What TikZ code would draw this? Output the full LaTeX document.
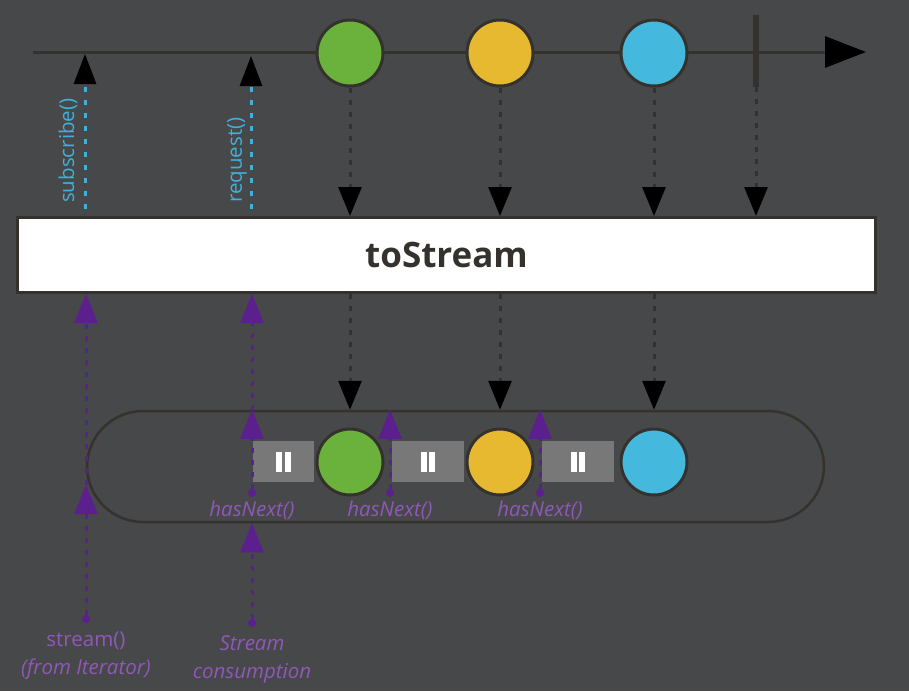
\documentclass[tikz,border=0pt]{standalone}
\usepackage{fontspec}
\setmainfont{Open Sans}
\usepackage{xcolor}
\usepackage{tikz}
\usetikzlibrary{positioning, arrows.meta, calc}

\definecolor{bgcol}{HTML}{47484A}
\definecolor{linecol}{HTML}{35322E}
\definecolor{ballgreen}{HTML}{6AB23C}
\definecolor{ballyellow}{HTML}{E6B930}
\definecolor{ballblue}{HTML}{45B8DE}
\definecolor{callblue}{HTML}{3FB1DB}
\definecolor{pullpurple}{HTML}{5C1F8E}
\definecolor{labelpurple}{HTML}{9058B8}
\definecolor{pausegray}{HTML}{787878}

\newcommand{\pausebars}{\rule{6pt}{20pt}\hspace{2.5pt}\rule{6pt}{20pt}}

\begin{document}
\begin{tikzpicture}[
    x=1pt, y=-1pt,
    ball/.style={circle, draw=linecol, line width=3pt, minimum size=66pt, inner sep=0pt},
    opbox/.style={rectangle, draw=linecol, line width=3pt, fill=white, minimum width=858pt, minimum height=75pt, font=\fontsize{35}{40}\selectfont\bfseries, text=linecol},
    streambox/.style={rectangle, draw=linecol, line width=2.5pt, rounded corners=56pt, minimum width=737pt, minimum height=111pt},
    pausebox/.style={rectangle, fill=pausegray, minimum height=41pt, inner sep=0pt, text=white},
    donebar/.style={rectangle, fill=linecol, minimum width=6pt, minimum height=72pt, inner sep=0pt},
    pulldot/.style={circle, fill=pullpurple, minimum size=8pt, inner sep=0pt},
    calllabel/.style={font=\fontsize{20.5}{24}\selectfont, text=callblue, rotate=90, anchor=west, inner sep=0pt},
    pulllabel/.style={font=\fontsize{20.5}{28.5}\selectfont\itshape, text=labelpurple, align=center, inner sep=0pt},
    tline/.style={linecol, line width=3pt, -{Triangle[length=41pt, width=31pt, color=black]}},
    emitarr/.style={linecol, line width=3pt, dash pattern=on 5pt off 7pt, -{Triangle[length=29pt, width=23pt, color=black]}},
    callarr/.style={callblue, line width=3pt, dash pattern=on 5pt off 8pt, -{Triangle[length=30pt, width=22pt, color=black]}},
    pullarr/.style={pullpurple, line width=3pt, dash pattern=on 5pt off 7pt, -{Triangle[length=29pt, width=23pt, color=pullpurple]}},
]
\fill[bgcol] (0,0) rectangle (909,691);

% --- Source timeline ---
\coordinate (tstart) at (33,52);
\coordinate (tend) at (866,52);
\draw[tline] (tstart) -- (tend);
\node[ball, fill=ballgreen] (g1) at (350,53) {};
\node[ball, fill=ballyellow] (y1) at (500,53) {};
\node[ball, fill=ballblue] (b1) at (654,53) {};
\node[donebar] (done) at (756,51) {};

% --- Operator ---
\node[opbox] (op) at (446.5,255) {toStream};

% --- Subscribe / request ---
\coordinate (sub) at (85,209);
\coordinate (subtop) at (85,54);
\coordinate (req) at (251,209);
\coordinate (reqtop) at (251,56);
\draw[callarr] (sub) -- (subtop);
\draw[callarr] (req) -- (reqtop);
\node[calllabel] (sublabel) at (68,203) {subscribe()};
\node[calllabel] (reqlabel) at (237,203) {request()};

% --- Emissions into operator ---
\draw[emitarr] (g1) -- (g1 |- op.north);
\draw[emitarr] (y1) -- (y1 |- op.north);
\draw[emitarr] (b1) -- (b1 |- op.north);
\draw[emitarr] (done) -- (done |- op.north);

% --- Resulting stream ---
\node[streambox] (stream) at (455.5,466.5) {};
\node[pausebox, minimum width=61pt] (p1) at (283.5,461.5) {\pausebars};
\node[ball, fill=ballgreen] (g2) at (350,462) {};
\node[pausebox, minimum width=72pt] (p2) at (428,461.5) {\pausebars};
\node[ball, fill=ballyellow] (y2) at (500,462) {};
\node[pausebox, minimum width=72pt] (p3) at (578,461.5) {\pausebars};
\node[ball, fill=ballblue] (b2) at (654,462) {};

\draw[emitarr] (op.south -| g1) -- (g1 |- stream.north);
\draw[emitarr] (op.south -| y1) -- (y1 |- stream.north);
\draw[emitarr] (op.south -| b1) -- (b1 |- stream.north);

% --- Pulls ---
\node[pulldot] (it) at (86,619) {};
\coordinate (itside) at (86,485);
\draw[pullarr] (it) -- (itside);
\draw[pullarr] (itside) -- (itside |- op.south);

\node[pulldot] (cons) at (252,623) {};
\draw[pullarr] (cons) -- (cons |- stream.south);

\node[pulldot] (hn1) at (252,493) {};
\node[pulldot] (hn2) at (390,493) {};
\node[pulldot] (hn3) at (540,493) {};
\coordinate (hn1top) at (hn1 |- stream.north);
\draw[pullarr] (hn1) -- (hn1top);
\draw[pullarr] (hn1top) -- (hn1 |- op.south);
\draw[pullarr] (hn2) -- (hn2 |- stream.north);
\draw[pullarr] (hn3) -- (hn3 |- stream.north);

% --- Labels ---
\node[pulllabel, below=4pt of hn1] (hnlabel1) {hasNext()};
\node[pulllabel, below=4pt of hn2] (hnlabel2) {hasNext()};
\node[pulllabel, below=4pt of hn3] (hnlabel3) {hasNext()};
\node[pulllabel, below=8pt of it] (itlabel) {\upshape stream()\\(from Iterator)};
\node[pulllabel, below=8pt of cons] (conslabel) {Stream\\consumption};
\end{tikzpicture}
\end{document}
